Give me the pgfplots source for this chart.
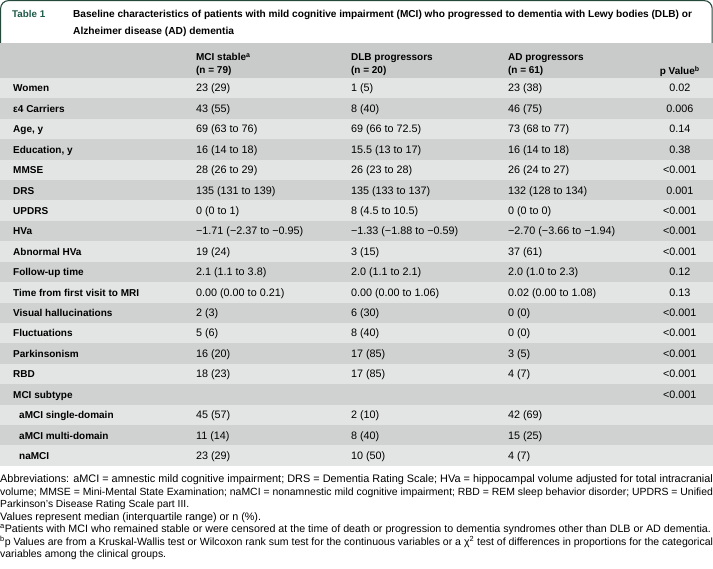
\documentclass[border=0pt]{standalone}
\usepackage{fontspec}
\setmainfont{Liberation Sans}
\usepackage{graphicx}
\usepackage{pgfplots}
\pgfplotsset{compat=1.18}

\definecolor{rowlight}{HTML}{E3E4E4}
\definecolor{rowdark}{HTML}{D0D2D1}
\definecolor{headgray}{HTML}{C9CBCA}
\definecolor{boxgreen}{HTML}{24483A}
\definecolor{tabteal}{HTML}{1D5A48}

\newcommand{\fl}{\fontsize{10bp}{12bp}\selectfont\bfseries}
\newcommand{\fv}{\fontsize{10.8bp}{12bp}\selectfont}
\newcommand{\fn}{\fontsize{11bp}{12bp}\selectfont}
\newcommand{\ft}{\fontsize{10.2bp}{12bp}\selectfont\bfseries}

\tikzset{
  lbl/.style={anchor=base west, inner sep=0pt, font=\fl},
  val/.style={anchor=base west, inner sep=0pt, font=\fv},
  pv/.style={anchor=base, inner sep=0pt, font=\fv},
  fnote/.style={anchor=base west, inner sep=0pt, font=\fn},
}

% one table row: index, label, MCI stable, DLB, AD, p
\newcommand{\trow}[6]{%
  \node[lbl] at (axis cs:13,{92+20.42*#1}) {#2};
  \node[val] at (axis cs:196,{92+20.42*#1}) {#3};
  \node[val] at (axis cs:351,{92+20.42*#1}) {#4};
  \node[val] at (axis cs:508,{92+20.42*#1}) {#5};
  \node[pv] at (axis cs:680,{92+20.42*#1}) {#6};
}
\newcommand{\rowbg}[2]{%
  \fill[#2] (axis cs:0,{78+20.42*#1}) rectangle (axis cs:713,{78+20.42*(#1+1)});
}

\begin{document}
\begin{tikzpicture}
\begin{axis}[
  width=713bp, height=569bp, scale only axis,
  xmin=0, xmax=713, ymin=0, ymax=569, y dir=reverse,
  hide axis, clip=false,
]
\path (axis cs:0,0) rectangle (axis cs:713,569);

% title box
\draw[boxgreen, line width=1.1bp, rounded corners=8bp]
  (axis cs:0.6,44) -- (axis cs:0.6,0.6) -- (axis cs:712.4,0.6) -- (axis cs:712.4,44);
\node[anchor=base west, inner sep=0pt, font=\fontsize{9.8bp}{12bp}\selectfont\bfseries, text=tabteal]
  at (axis cs:12,18) {Table 1};
\node[anchor=base west, inner sep=0pt, font=\ft]
  at (axis cs:73,18) {\resizebox{619bp}{!}{Baseline characteristics of patients with mild cognitive impairment (MCI) who progressed to dementia with Lewy bodies (DLB) or}};
\node[anchor=base west, inner sep=0pt, font=\ft]
  at (axis cs:73,35) {Alzheimer disease (AD) dementia};

% header band
\fill[headgray] (axis cs:0,43.5) rectangle (axis cs:713,78);
\node[lbl] at (axis cs:196,61) {MCI stable\textsuperscript{a}};
\node[lbl] at (axis cs:196,74) {(n = 79)};
\node[lbl] at (axis cs:351,61) {DLB progressors};
\node[lbl] at (axis cs:351,74) {(n = 20)};
\node[lbl] at (axis cs:508,61) {AD progressors};
\node[lbl] at (axis cs:508,74) {(n = 61)};
\node[anchor=base east, inner sep=0pt, font=\fl] at (axis cs:700,75) {p Value\textsuperscript{b}};

% row backgrounds
\rowbg{0}{rowlight}\rowbg{1}{rowdark}\rowbg{2}{rowlight}\rowbg{3}{rowdark}
\rowbg{4}{rowlight}\rowbg{5}{rowdark}\rowbg{6}{rowlight}\rowbg{7}{rowdark}
\rowbg{8}{rowlight}\rowbg{9}{rowdark}\rowbg{10}{rowlight}\rowbg{11}{rowdark}
\rowbg{12}{rowlight}\rowbg{13}{rowdark}\rowbg{14}{rowlight}\rowbg{15}{rowdark}
\rowbg{16}{rowlight}\rowbg{17}{rowdark}\rowbg{18}{rowlight}

% rows
\trow{0}{Women}{23 (29)}{1 (5)}{23 (38)}{0.02}
\trow{1}{ε4 Carriers}{43 (55)}{8 (40)}{46 (75)}{0.006}
\trow{2}{Age, y}{69 (63 to 76)}{69 (66 to 72.5)}{73 (68 to 77)}{0.14}
\trow{3}{Education, y}{16 (14 to 18)}{15.5 (13 to 17)}{16 (14 to 18)}{0.38}
\trow{4}{MMSE}{28 (26 to 29)}{26 (23 to 28)}{26 (24 to 27)}{<0.001}
\trow{5}{DRS}{135 (131 to 139)}{135 (133 to 137)}{132 (128 to 134)}{0.001}
\trow{6}{UPDRS}{0 (0 to 1)}{8 (4.5 to 10.5)}{0 (0 to 0)}{<0.001}
\trow{7}{HVa}{−1.71 (−2.37 to −0.95)}{−1.33 (−1.88 to −0.59)}{−2.70 (−3.66 to −1.94)}{<0.001}
\trow{8}{Abnormal HVa}{19 (24)}{3 (15)}{37 (61)}{<0.001}
\trow{9}{Follow-up time}{2.1 (1.1 to 3.8)}{2.0 (1.1 to 2.1)}{2.0 (1.0 to 2.3)}{0.12}
\trow{10}{Time from first visit to MRI}{0.00 (0.00 to 0.21)}{0.00 (0.00 to 1.06)}{0.02 (0.00 to 1.08)}{0.13}
\trow{11}{Visual hallucinations}{2 (3)}{6 (30)}{0 (0)}{<0.001}
\trow{12}{Fluctuations}{5 (6)}{8 (40)}{0 (0)}{<0.001}
\trow{13}{Parkinsonism}{16 (20)}{17 (85)}{3 (5)}{<0.001}
\trow{14}{RBD}{18 (23)}{17 (85)}{4 (7)}{<0.001}
\trow{15}{MCI subtype}{}{}{}{<0.001}
\trow{16}{\hspace*{6bp}aMCI single-domain}{45 (57)}{2 (10)}{42 (69)}{}
\trow{17}{\hspace*{6bp}aMCI multi-domain}{11 (14)}{8 (40)}{15 (25)}{}
\trow{18}{\hspace*{6bp}naMCI}{23 (29)}{10 (50)}{4 (7)}{}

% footnotes
\node[fnote] at (axis cs:0,483)
  {\resizebox{713bp}{!}{Abbreviations: aMCI = amnestic mild cognitive impairment; DRS = Dementia Rating Scale; HVa = hippocampal volume adjusted for total intracranial}};
\node[fnote] at (axis cs:0,495.5)
  {\resizebox{713bp}{!}{volume; MMSE = Mini-Mental State Examination; naMCI = nonamnestic mild cognitive impairment; RBD = REM sleep behavior disorder; UPDRS = Unified}};
\node[fnote] at (axis cs:0,508)
  {\resizebox{189bp}{!}{Parkinson's Disease Rating Scale part III.}};
\node[fnote] at (axis cs:0,520.5)
  {\resizebox{261bp}{!}{Values represent median (interquartile range) or n (\%).}};
\node[fnote] at (axis cs:0,533)
  {\resizebox{711bp}{!}{\textsuperscript{a}Patients with MCI who remained stable or were censored at the time of death or progression to dementia syndromes other than DLB or AD dementia.}};
\node[fnote] at (axis cs:0,545.5)
  {\resizebox{713bp}{!}{\textsuperscript{b}p Values are from a Kruskal-Wallis test or Wilcoxon rank sum test for the continuous variables or a χ\textsuperscript{2} test of differences in proportions for the categorical}};
\node[fnote] at (axis cs:0,558)
  {\resizebox{166bp}{!}{variables among the clinical groups.}};
\end{axis}
\end{tikzpicture}
\end{document}
